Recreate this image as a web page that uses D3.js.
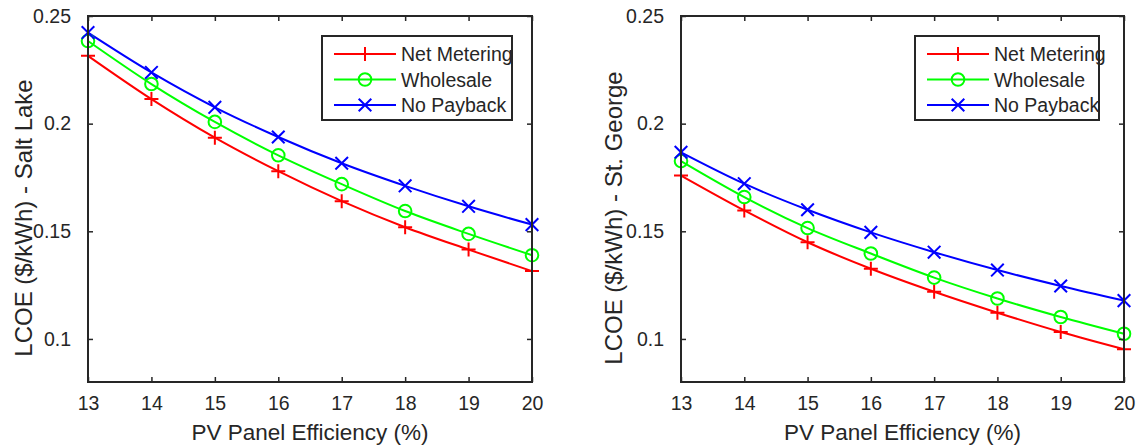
<!DOCTYPE html>
<html>
<head>
<meta charset="utf-8">
<script src="https://cdn.jsdelivr.net/npm/d3@7"></script>
<style>
  html, body { margin: 0; padding: 0; background: #fff; }
  svg { display: block; }
  text { font-family: "Liberation Sans", Arial, Helvetica, sans-serif; fill: #262626; }
</style>
</head>
<body>
<svg id="chart" width="1137" height="448"></svg>
<script>
// ---- data ----
const efficiency = [13, 14, 15, 16, 17, 18, 19, 20];
const seriesNames = ["Net Metering", "Wholesale", "No Payback"];
const seriesColors = ["#ff0000", "#00ff00", "#0000ff"];
const seriesMarkers = ["plus", "circle", "cross"];

const saltLakeNetMetering = [0.2315, 0.2114, 0.1935, 0.1779, 0.1640, 0.1519, 0.1415, 0.1315];
const saltLakeWholesale   = [0.2384, 0.2184, 0.2008, 0.1853, 0.1719, 0.1594, 0.1488, 0.1389];
const saltLakeNoPayback   = [0.2423, 0.2238, 0.2076, 0.1938, 0.1816, 0.1711, 0.1616, 0.1531];

const stGeorgeNetMetering = [0.1759, 0.1597, 0.1449, 0.1326, 0.1219, 0.1122, 0.1032, 0.0952];
const stGeorgeWholesale   = [0.1826, 0.1659, 0.1515, 0.1397, 0.1285, 0.1188, 0.1102, 0.1024];
const stGeorgeNoPayback   = [0.1867, 0.1721, 0.1600, 0.1495, 0.1403, 0.1320, 0.1246, 0.1178];

const xTicks = [13, 14, 15, 16, 17, 18, 19, 20];
const yTicks = [0.1, 0.15, 0.2, 0.25];
const yTickLabels = ["0.1", "0.15", "0.2", "0.25"];
const yDomain = [0.08, 0.25];
const xLabel = "PV Panel Efficiency (%)";
const yLabelSaltLake = "LCOE ($/kWh) - Salt Lake";
const yLabelStGeorge = "LCOE ($/kWh) - St. George";

// ---- drawing ----
const svg = d3.select("#chart");
const AX = "#262626";

function marker(g, type, x, y, color) {
  if (type === "plus") {
    const s = 7;
    g.append("path").attr("d", `M${x - s},${y}H${x + s}M${x},${y - s}V${y + s}`)
      .attr("stroke", color).attr("stroke-width", 2).attr("fill", "none");
  } else if (type === "circle") {
    g.append("circle").attr("cx", x).attr("cy", y).attr("r", 6.3)
      .attr("stroke", color).attr("stroke-width", 2).attr("fill", "none");
  } else {
    const s = 6.3;
    g.append("path").attr("d", `M${x - s},${y - s}L${x + s},${y + s}M${x - s},${y + s}L${x + s},${y - s}`)
      .attr("stroke", color).attr("stroke-width", 2).attr("fill", "none");
  }
}

function panel(cfg) {
  const g = svg.append("g");
  const x = d3.scaleLinear().domain([13, 20]).range([cfg.left, cfg.right]);
  const y = d3.scaleLinear().domain(yDomain).range([cfg.bottom, cfg.top]);

  // series lines
  const line = d3.line().x((d, i) => x(efficiency[i])).y(d => y(d)).curve(d3.curveMonotoneX);
  cfg.series.forEach((vals, si) => {
    g.append("path").datum(vals).attr("d", line)
      .attr("fill", "none").attr("stroke", seriesColors[si]).attr("stroke-width", 2);
  });
  cfg.series.forEach((vals, si) => {
    vals.forEach((v, i) => marker(g, seriesMarkers[si], x(efficiency[i]), y(v), seriesColors[si]));
  });

  // axes (box with inward ticks)
  const tickLen = 5;
  const bottomAxis = d3.axisBottom(x).tickValues(xTicks).tickSizeInner(-tickLen).tickSizeOuter(0).tickPadding(14).tickFormat(d3.format("d"));
  const topAxis = d3.axisTop(x).tickValues(xTicks).tickSizeInner(-tickLen).tickSizeOuter(0).tickFormat("");
  const leftAxis = d3.axisLeft(y).tickValues(yTicks).tickSizeInner(-tickLen).tickSizeOuter(0).tickPadding(17)
    .tickFormat((d, i) => yTickLabels[i]);
  const rightAxis = d3.axisRight(y).tickValues(yTicks).tickSizeInner(-tickLen).tickSizeOuter(0).tickFormat("");

  const styleAxis = sel => {
    sel.select(".domain").remove();
    sel.selectAll(".tick line").attr("stroke", AX).attr("stroke-width", 1.5);
    sel.selectAll(".tick text").attr("fill", AX).style("font-size", "19.5px")
      .style("font-family", '"Liberation Sans", Arial, sans-serif');
  };
  g.append("g").attr("transform", `translate(0,${cfg.bottom})`).call(bottomAxis).call(styleAxis);
  g.append("g").attr("transform", `translate(0,${cfg.top})`).call(topAxis).call(styleAxis);
  g.append("g").attr("transform", `translate(${cfg.left},0)`).call(leftAxis).call(styleAxis);
  g.append("g").attr("transform", `translate(${cfg.right},0)`).call(rightAxis).call(styleAxis);

  g.append("rect").attr("x", cfg.left).attr("y", cfg.top)
    .attr("width", cfg.right - cfg.left).attr("height", cfg.bottom - cfg.top)
    .attr("fill", "none").attr("stroke", AX).attr("stroke-width", 2);

  // axis labels
  g.append("text").attr("x", (cfg.left + cfg.right) / 2).attr("y", 440)
    .attr("text-anchor", "middle").style("font-size", "22.5px").text(xLabel);
  g.append("text").attr("transform", `translate(${cfg.ylabelX},218) rotate(-90)`)
    .attr("text-anchor", "middle").style("font-size", "24px").text(cfg.ylabel);

  // legend
  const L = cfg.legend;
  const lg = g.append("g");
  lg.append("rect").attr("x", L.x).attr("y", L.y).attr("width", L.w).attr("height", L.h)
    .attr("fill", "#fff").attr("stroke", AX).attr("stroke-width", 2);
  const rows = [54, 79.5, 105];
  seriesNames.forEach((name, si) => {
    const ry = rows[si];
    lg.append("line").attr("x1", L.x + 12).attr("x2", L.x + 74).attr("y1", ry).attr("y2", ry)
      .attr("stroke", seriesColors[si]).attr("stroke-width", 2);
    marker(lg, seriesMarkers[si], L.x + 43, ry, seriesColors[si]);
    lg.append("text").attr("x", L.x + 79).attr("y", ry).attr("dy", "0.36em")
      .style("font-size", "19.5px").text(name);
  });
}

panel({
  left: 88, right: 532, top: 16, bottom: 382,
  series: [saltLakeNetMetering, saltLakeWholesale, saltLakeNoPayback],
  ylabel: yLabelSaltLake, ylabelX: 32,
  legend: { x: 322, y: 36, w: 190, h: 84 }
});
panel({
  left: 681, right: 1124, top: 16, bottom: 382,
  series: [stGeorgeNetMetering, stGeorgeWholesale, stGeorgeNoPayback],
  ylabel: yLabelStGeorge, ylabelX: 622,
  legend: { x: 915, y: 36, w: 184, h: 84 }
});
</script>
</body>
</html>
